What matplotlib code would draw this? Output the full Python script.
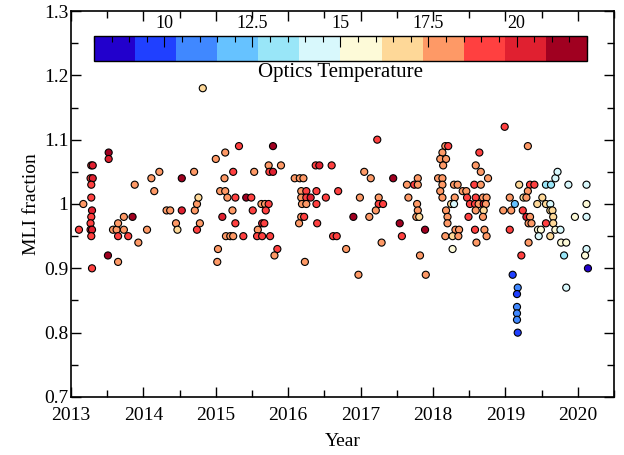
import numpy as np
import matplotlib
import matplotlib.pyplot as plt
from matplotlib.colors import ListedColormap, BoundaryNorm
from matplotlib.ticker import MultipleLocator

plt.rcParams["font.family"] = ["Liberation Serif", "DejaVu Serif"]

# ── data (year, MLI fraction, optics temperature) ──
year_2013 = [2013.11, 2013.17, 2013.28, 2013.30, 2013.27, 2013.30, 2013.28, 2013.28, 2013.29,
             2013.28, 2013.27, 2013.27, 2013.29, 2013.28, 2013.29, 2013.52, 2013.52, 2013.51,
             2013.58, 2013.63, 2013.65, 2013.65, 2013.73, 2013.73, 2013.85, 2013.79, 2013.93,
             2013.65, 2014.05, 2013.88, 2014.11, 2014.15, 2014.22, 2014.32, 2014.37]
mli_2013 = [0.96, 1.00, 1.06, 1.06, 1.04, 1.04, 1.03, 1.01, 0.99,
            0.98, 0.97, 0.96, 0.96, 0.95, 0.90, 1.08, 1.07, 0.92,
            0.96, 0.96, 0.97, 0.95, 0.96, 0.98, 0.98, 0.95, 0.94,
            0.91, 0.96, 1.03, 1.04, 1.02, 1.05, 0.99, 0.99]
temp_2013 = [19, 18, 19, 20.3, 19, 20.3, 19, 19, 20.3,
             19, 19, 19, 20.3, 19, 19, 21.5, 20.3, 21.5,
             18, 18, 18, 19, 18, 18, 21.5, 19, 18,
             18, 18, 18, 18, 18, 18, 18, 18]

year_2015 = [2014.53, 2014.53, 2014.70, 2014.45, 2014.47, 2014.71, 2014.74, 2014.76, 2014.78,
             2014.74, 2014.82, 2015.00, 2015.13, 2015.32, 2015.79, 2015.12, 2015.24, 2015.53,
             2015.73, 2015.74, 2015.79, 2015.06, 2015.13, 2015.16, 2015.27, 2015.42, 2015.49,
             2015.63, 2015.68, 2015.73, 2015.23, 2015.51, 2015.69, 2015.09, 2015.27, 2015.64,
             2015.67, 2015.58, 2015.14, 2015.20, 2015.24, 2015.38, 2015.57, 2015.64, 2015.75,
             2015.03, 2015.02, 2015.85, 2015.81]
mli_2015 = [0.99, 1.04, 1.05, 0.97, 0.96, 0.99, 1.00, 1.01, 0.97,
            0.96, 1.18, 1.07, 1.08, 1.09, 1.09, 1.04, 1.05, 1.05,
            1.06, 1.05, 1.05, 1.02, 1.02, 1.01, 1.01, 1.01, 1.01,
            1.00, 1.00, 1.00, 0.99, 0.99, 0.99, 0.98, 0.97, 0.97,
            0.97, 0.96, 0.95, 0.95, 0.95, 0.95, 0.95, 0.95, 0.95,
            0.93, 0.91, 0.93, 0.92]
temp_2015 = [20.3, 21.5, 18, 18, 16.8, 18, 18, 16.8, 18,
             19, 16.8, 18, 18, 19, 21.5, 18, 19, 18,
             18, 19, 20.3, 18, 18, 18, 19, 21.5, 19,
             18, 18, 19, 18, 19, 19, 20.3, 19, 20.3,
             19, 18, 18, 18, 18, 19, 19, 19, 19,
             18, 18, 19, 18]

year_2016 = [2015.90, 2016.38, 2016.43, 2016.60, 2017.23, 2017.05, 2017.14, 2016.09, 2016.16,
             2016.21, 2016.18, 2016.25, 2016.39, 2016.69, 2016.18, 2016.25, 2016.31, 2016.52,
             2016.19, 2016.25, 2016.39, 2016.99, 2017.25, 2017.25, 2017.31, 2017.21, 2017.12,
             2016.90, 2016.18, 2016.22, 2016.15, 2016.40, 2016.62, 2016.67, 2016.80, 2016.23,
             2016.97, 2017.29]
mli_2016 = [1.06, 1.06, 1.06, 1.06, 1.10, 1.05, 1.04, 1.04, 1.04,
            1.04, 1.02, 1.02, 1.02, 1.02, 1.01, 1.01, 1.01, 1.01,
            1.00, 1.00, 1.00, 1.01, 1.01, 1.00, 1.00, 0.99, 0.98,
            0.98, 0.98, 0.98, 0.97, 0.97, 0.95, 0.95, 0.93, 0.91,
            0.89, 0.94]
temp_2016 = [18, 19, 20.3, 19, 19, 18, 18, 18, 18,
             18, 18, 19, 19, 19, 18, 19, 20.3, 19,
             18, 18, 19, 18, 18, 19, 19, 18, 18,
             21.5, 18, 19, 18, 19, 19, 19, 18, 18,
             18, 18]

year_2018 = [2017.45, 2017.79, 2017.64, 2017.74, 2017.79, 2017.66, 2017.78, 2017.79, 2017.77,
             2017.81, 2017.54, 2017.89, 2017.57, 2017.82, 2017.90, 2018.17, 2018.21, 2018.13,
             2018.10, 2018.18, 2018.14, 2018.64, 2018.59, 2018.66, 2018.07, 2018.13, 2018.13,
             2018.10, 2018.13, 2018.29, 2018.34, 2018.41, 2018.46, 2018.57, 2018.66, 2018.30,
             2018.47, 2018.59, 2018.25, 2018.29, 2018.51, 2018.58, 2018.63, 2018.18, 2018.59,
             2018.20, 2018.49, 2018.20, 2018.31, 2018.36, 2018.58, 2018.17, 2018.27, 2018.35,
             2018.60, 2018.27]
mli_2018 = [1.04, 1.04, 1.03, 1.03, 1.03, 1.01, 1.00, 0.99, 0.98,
            0.98, 0.97, 0.96, 0.95, 0.92, 0.89, 1.09, 1.09, 1.08,
            1.07, 1.07, 1.06, 1.08, 1.06, 1.05, 1.04, 1.04, 1.03,
            1.02, 1.01, 1.03, 1.03, 1.02, 1.02, 1.03, 1.03, 1.01,
            1.01, 1.01, 1.00, 1.00, 1.00, 1.00, 1.00, 0.99, 0.99,
            0.98, 0.98, 0.97, 0.96, 0.96, 0.96, 0.95, 0.95, 0.95,
            0.94, 0.93]
temp_2018 = [21.5, 18, 18, 19, 18, 18, 18, 18, 18,
             16.8, 21.5, 21.5, 19, 18, 18, 18, 19, 18,
             18, 18, 18, 19, 18, 18, 18, 18, 18,
             18, 18, 18, 18, 18, 18, 19, 18, 18,
             19, 19, 16.8, 14.4, 19, 19, 18, 18, 18,
             18, 19, 18, 18, 18, 19, 18, 16.8, 18,
             18, 15.5]

year_2019 = [2018.69, 2018.74, 2018.70, 2018.73, 2018.70, 2018.69, 2018.71, 2018.74, 2018.76,
             2018.99, 2019.31, 2018.97, 2019.08, 2019.06, 2019.13, 2019.24, 2019.06, 2019.19,
             2019.34, 2019.40, 2019.31, 2019.25, 2019.29, 2019.29, 2019.34, 2019.32, 2019.36,
             2019.32, 2019.22, 2019.10, 2019.17, 2019.16, 2019.16, 2019.16, 2019.16, 2019.17,
             2019.45, 2019.49, 2019.46, 2019.44, 2019.51, 2019.56, 2019.56, 2019.62, 2019.62,
             2019.65, 2019.66, 2019.66, 2019.69, 2019.76, 2019.62, 2019.56, 2019.63, 2019.69,
             2019.72, 2019.87, 2019.77, 2019.84, 2019.81, 2019.84, 2019.96, 2020.12, 2020.12,
             2020.12, 2020.12, 2020.10, 2020.14]
mli_2019 = [1.01, 1.01, 1.00, 1.00, 0.99, 0.98, 0.96, 0.95, 1.04,
            1.12, 1.09, 0.99, 0.99, 1.01, 1.00, 0.99, 0.96, 1.03,
            1.03, 1.03, 1.02, 1.01, 1.01, 0.98, 0.98, 0.97, 0.97,
            0.94, 0.92, 0.89, 0.87, 0.86, 0.84, 0.83, 0.82, 0.80,
            0.96, 0.96, 0.95, 1.00, 1.01, 0.97, 1.00, 1.00, 0.99,
            0.99, 0.98, 0.97, 0.96, 0.96, 0.95, 1.03, 1.03, 1.04,
            1.05, 1.03, 0.94, 0.94, 0.92, 0.87, 0.98, 1.03, 1.00,
            0.98, 0.93, 0.92, 0.90]
temp_2019 = [18, 18, 20.3, 18, 16.8, 18, 18, 18, 18,
             19, 18, 18, 18, 18, 12, 19, 19, 16.8,
             19, 19, 18, 16.8, 18, 20.3, 18, 18, 18,
             18, 19, 9.8, 11, 9.8, 11, 11, 11, 9.8,
             15.5, 15.5, 14.4, 16.8, 16.8, 19, 16.8, 14.4, 16.8,
             16.8, 16.8, 16.8, 15.5, 14.4, 16.8, 13.2, 13.2, 14.4,
             14.4, 14.4, 15.5, 15.5, 13.2, 14.4, 15.5, 14.4, 15.5,
             14.4, 14.4, 15.5, 8.6]

years = np.array(year_2013 + year_2015 + year_2016 + year_2018 + year_2019)
mli   = np.array(mli_2013 + mli_2015 + mli_2016 + mli_2018 + mli_2019)
temps = np.array(temp_2013 + temp_2015 + temp_2016 + temp_2018 + temp_2019)

# ── 12-step blue→red palette, 8 to 22 ─────────────────────────────────────
band_colors = ["#2200cc", "#2040ff", "#4088ff", "#66c2ff", "#99e6f8", "#d8f8fc",
               "#fdfad8", "#fed898", "#fe9966", "#ff4040", "#e02030", "#a00020"]
cmap = ListedColormap(band_colors)
norm = BoundaryNorm(np.linspace(8, 22, 13), cmap.N)

fig = plt.figure(figsize=(6.24, 4.55), dpi=100)
ax = fig.add_axes([0.1138, 0.1275, 0.8702, 0.8483])

sc = ax.scatter(years, mli, c=temps, cmap=cmap, norm=norm,
                s=26, edgecolors="black", linewidths=0.8, zorder=3)

ax.set_xlim(2013, 2020.5)
ax.set_ylim(0.7, 1.3)
ax.xaxis.set_major_locator(MultipleLocator(1))
ax.xaxis.set_minor_locator(MultipleLocator(0.5))
ax.yaxis.set_major_locator(MultipleLocator(0.1))
ax.yaxis.set_minor_locator(MultipleLocator(0.05))
ax.xaxis.set_major_formatter(matplotlib.ticker.FuncFormatter(lambda v, p: f"{v:.0f}"))
ax.yaxis.set_major_formatter(matplotlib.ticker.FuncFormatter(lambda v, p: f"{v:g}"))
ax.tick_params(which="both", direction="in", top=True, right=True, labelsize=14,
               width=1.0, pad=2)
ax.tick_params(axis="x", which="major", pad=7)
ax.tick_params(which="major", length=7)
ax.tick_params(which="minor", length=5)
for sp in ax.spines.values():
    sp.set_linewidth(1.2)
ax.set_xlabel("Year", fontsize=14, labelpad=7)
ax.set_ylabel("MLI fraction", fontsize=14, labelpad=3)

# ── colorbar inside the plot area ─────────────────────────────────────────
cax = fig.add_axes([0.1506, 0.8666, 0.790, 0.0543])
cb = fig.colorbar(sc, cax=cax, orientation="horizontal")
cb.set_ticks([10, 12.5, 15, 17.5, 20])
cb.set_ticklabels(["10", "12.5", "15", "17.5", "20"])
cax.xaxis.set_minor_locator(MultipleLocator(0.5))
cax.xaxis.set_ticks_position("top")
cax.xaxis.set_label_position("bottom")
cax.tick_params(which="both", direction="in", labelsize=13, pad=3, width=0.8)
cax.tick_params(which="major", length=8)
cax.tick_params(which="minor", length=4)
cb.outline.set_linewidth(1.0)
cax.set_xlabel("Optics Temperature", fontsize=15, labelpad=2)

fig.savefig("out.png", dpi=100)
